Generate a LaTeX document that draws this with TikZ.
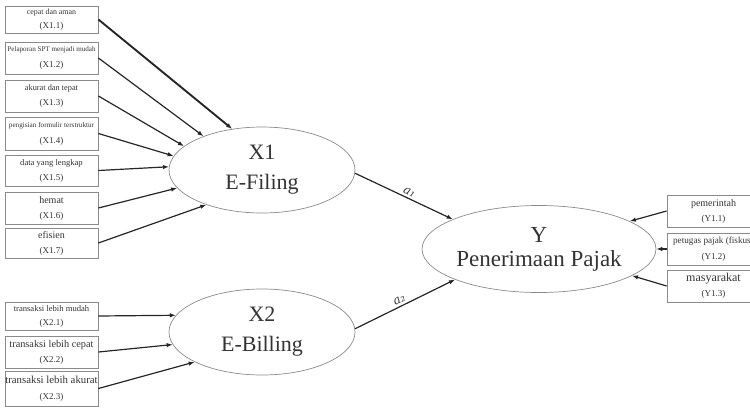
\documentclass[tikz,border=0pt]{standalone}
\usepackage{fontspec}
\setmainfont{Liberation Serif}
\newfontfamily\coeffont{DejaVu Serif}
\usetikzlibrary{arrows.meta,shapes.geometric}
\definecolor{boxgray}{HTML}{8A8A8A}
\definecolor{inkgray}{HTML}{333333}
\definecolor{arrowink}{HTML}{262626}

\begin{document}
\begin{tikzpicture}[x=1pt,y=-1pt,
  indicator/.style={draw=boxgray, line width=0.8pt, minimum width=93pt,
    inner sep=0pt, align=center, text=inkgray,
    font=\fontsize{9}{14}\selectfont},
  construct/.style={ellipse, draw=boxgray, line width=0.7pt,
    minimum width=186pt, minimum height=86pt, inner sep=0pt,
    align=center, text=inkgray, font=\fontsize{22}{30}\selectfont},
  link/.style={draw=arrowink, line width=1.2pt,
    -{Latex[length=6pt,width=4.5pt]}},
  coef/.style={font=\coeffont\itshape\fontsize{12}{12}\selectfont,
    text=inkgray, sloped, inner sep=2pt}]

\useasboundingbox (0,0) rectangle (750,408);
\clip (0,0) rectangle (750,408);

% --- indicators of X1 (E-Filing)
\node[indicator, minimum height=27pt] (x11) at (51.5,19.5)
  {{\fontsize{7.9}{14}\selectfont cepat dan aman}\\(X1.1)};
\node[indicator, minimum height=32pt] (x12) at (51.5,58)
  {{\fontsize{7.1}{14}\selectfont Pelaporan SPT menjadi mudah}\\[2pt](X1.2)};
\node[indicator, minimum height=32pt] (x13) at (51.5,96)
  {{\fontsize{8.3}{14}\selectfont akurat dan tepat}\\[1pt](X1.3)};
\node[indicator, minimum height=33pt] (x14) at (51.5,133.5)
  {{\fontsize{7.2}{14}\selectfont pengisian formulir terstruktur}\\[2pt](X1.4)};
\node[indicator, minimum height=31pt] (x15) at (51.5,170.5)
  {{\fontsize{8.6}{14}\selectfont data yang lengkap}\\[1pt](X1.5)};
\node[indicator, minimum height=32pt] (x16) at (51.5,208)
  {{\fontsize{10}{14}\selectfont hemat}\\[1pt](X1.6)};
\node[indicator, minimum height=30pt] (x17) at (51.5,243)
  {{\fontsize{10}{14}\selectfont efisien}\\[1pt](X1.7)};

% --- indicators of X2 (E-Billing)
\node[indicator, minimum height=28pt] (x21) at (51.5,316)
  {{\fontsize{8.6}{14}\selectfont transaksi lebih mudah}\\(X2.1)};
\node[indicator, minimum height=32pt] (x22) at (51.5,352)
  {{\fontsize{10.3}{14}\selectfont transaksi lebih cepat}\\[1pt](X2.2)};
\node[indicator, minimum height=35pt] (x23) at (51.5,388.5)
  {{\fontsize{10.8}{14}\selectfont transaksi lebih akurat}\\[2pt](X2.3)};

% --- indicators of Y
\node[indicator, minimum height=32pt] (y11) at (713.5,211)
  {{\fontsize{10}{14}\selectfont pemerintah}\\[1pt](Y1.1)};
\node[indicator, minimum height=32pt] (y12) at (713.5,249)
  {{\fontsize{9.2}{14}\selectfont petugas pajak (fiskus)}\\[2pt](Y1.2)};
\node[indicator, minimum height=32pt] (y13) at (713.5,286)
  {{\fontsize{12}{14}\selectfont masyarakat}\\[1pt](Y1.3)};

% --- latent constructs
\node[construct] (x1) at (262,170) {X1\\E-Filing};
\node[construct] (x2) at (262,332) {X2\\E-Billing};
\node[construct, minimum width=188pt, minimum height=87pt,
  font=\fontsize{23}{24}\selectfont] (y) at (539,249) {Y\\Penerimaan Pajak};

% --- loadings into X1
\draw[link, line width=1.9pt] (x11.east) -- (x1.126);
\draw[link] (x12.east) -- (x1.150.6);
\draw[link] (x13.east) -- (x1.163.3);
\draw[link] (x14.east) -- (x1.171.8);
\draw[link] (x15.east) -- (x1.178.8);
\draw[link] (x16.east) -- (x1.192.6);
\draw[link] (x17.east) -- (x1.212.3);

% --- loadings into X2
\draw[link] (x21.east) -- (x2.169.6);
\draw[link] (x22.east) -- (x2.188.8);
\draw[link] (x23.east) -- (x2.204.2);

% --- loadings into Y
\draw[link] (y11.west) -- (y.17.1);
\draw[link] (y12.west) -- (y.0);
\draw[link] (y13.west) -- (y.-16.1);

% --- structural paths
\draw[link] (x1.-2) -- node[coef, above, pos=0.53] {a₁} (y.161.8);
\draw[link] (x2.2.5) -- node[coef, above, pos=0.47] {a₂} (y.200.2);
\end{tikzpicture}
\end{document}
